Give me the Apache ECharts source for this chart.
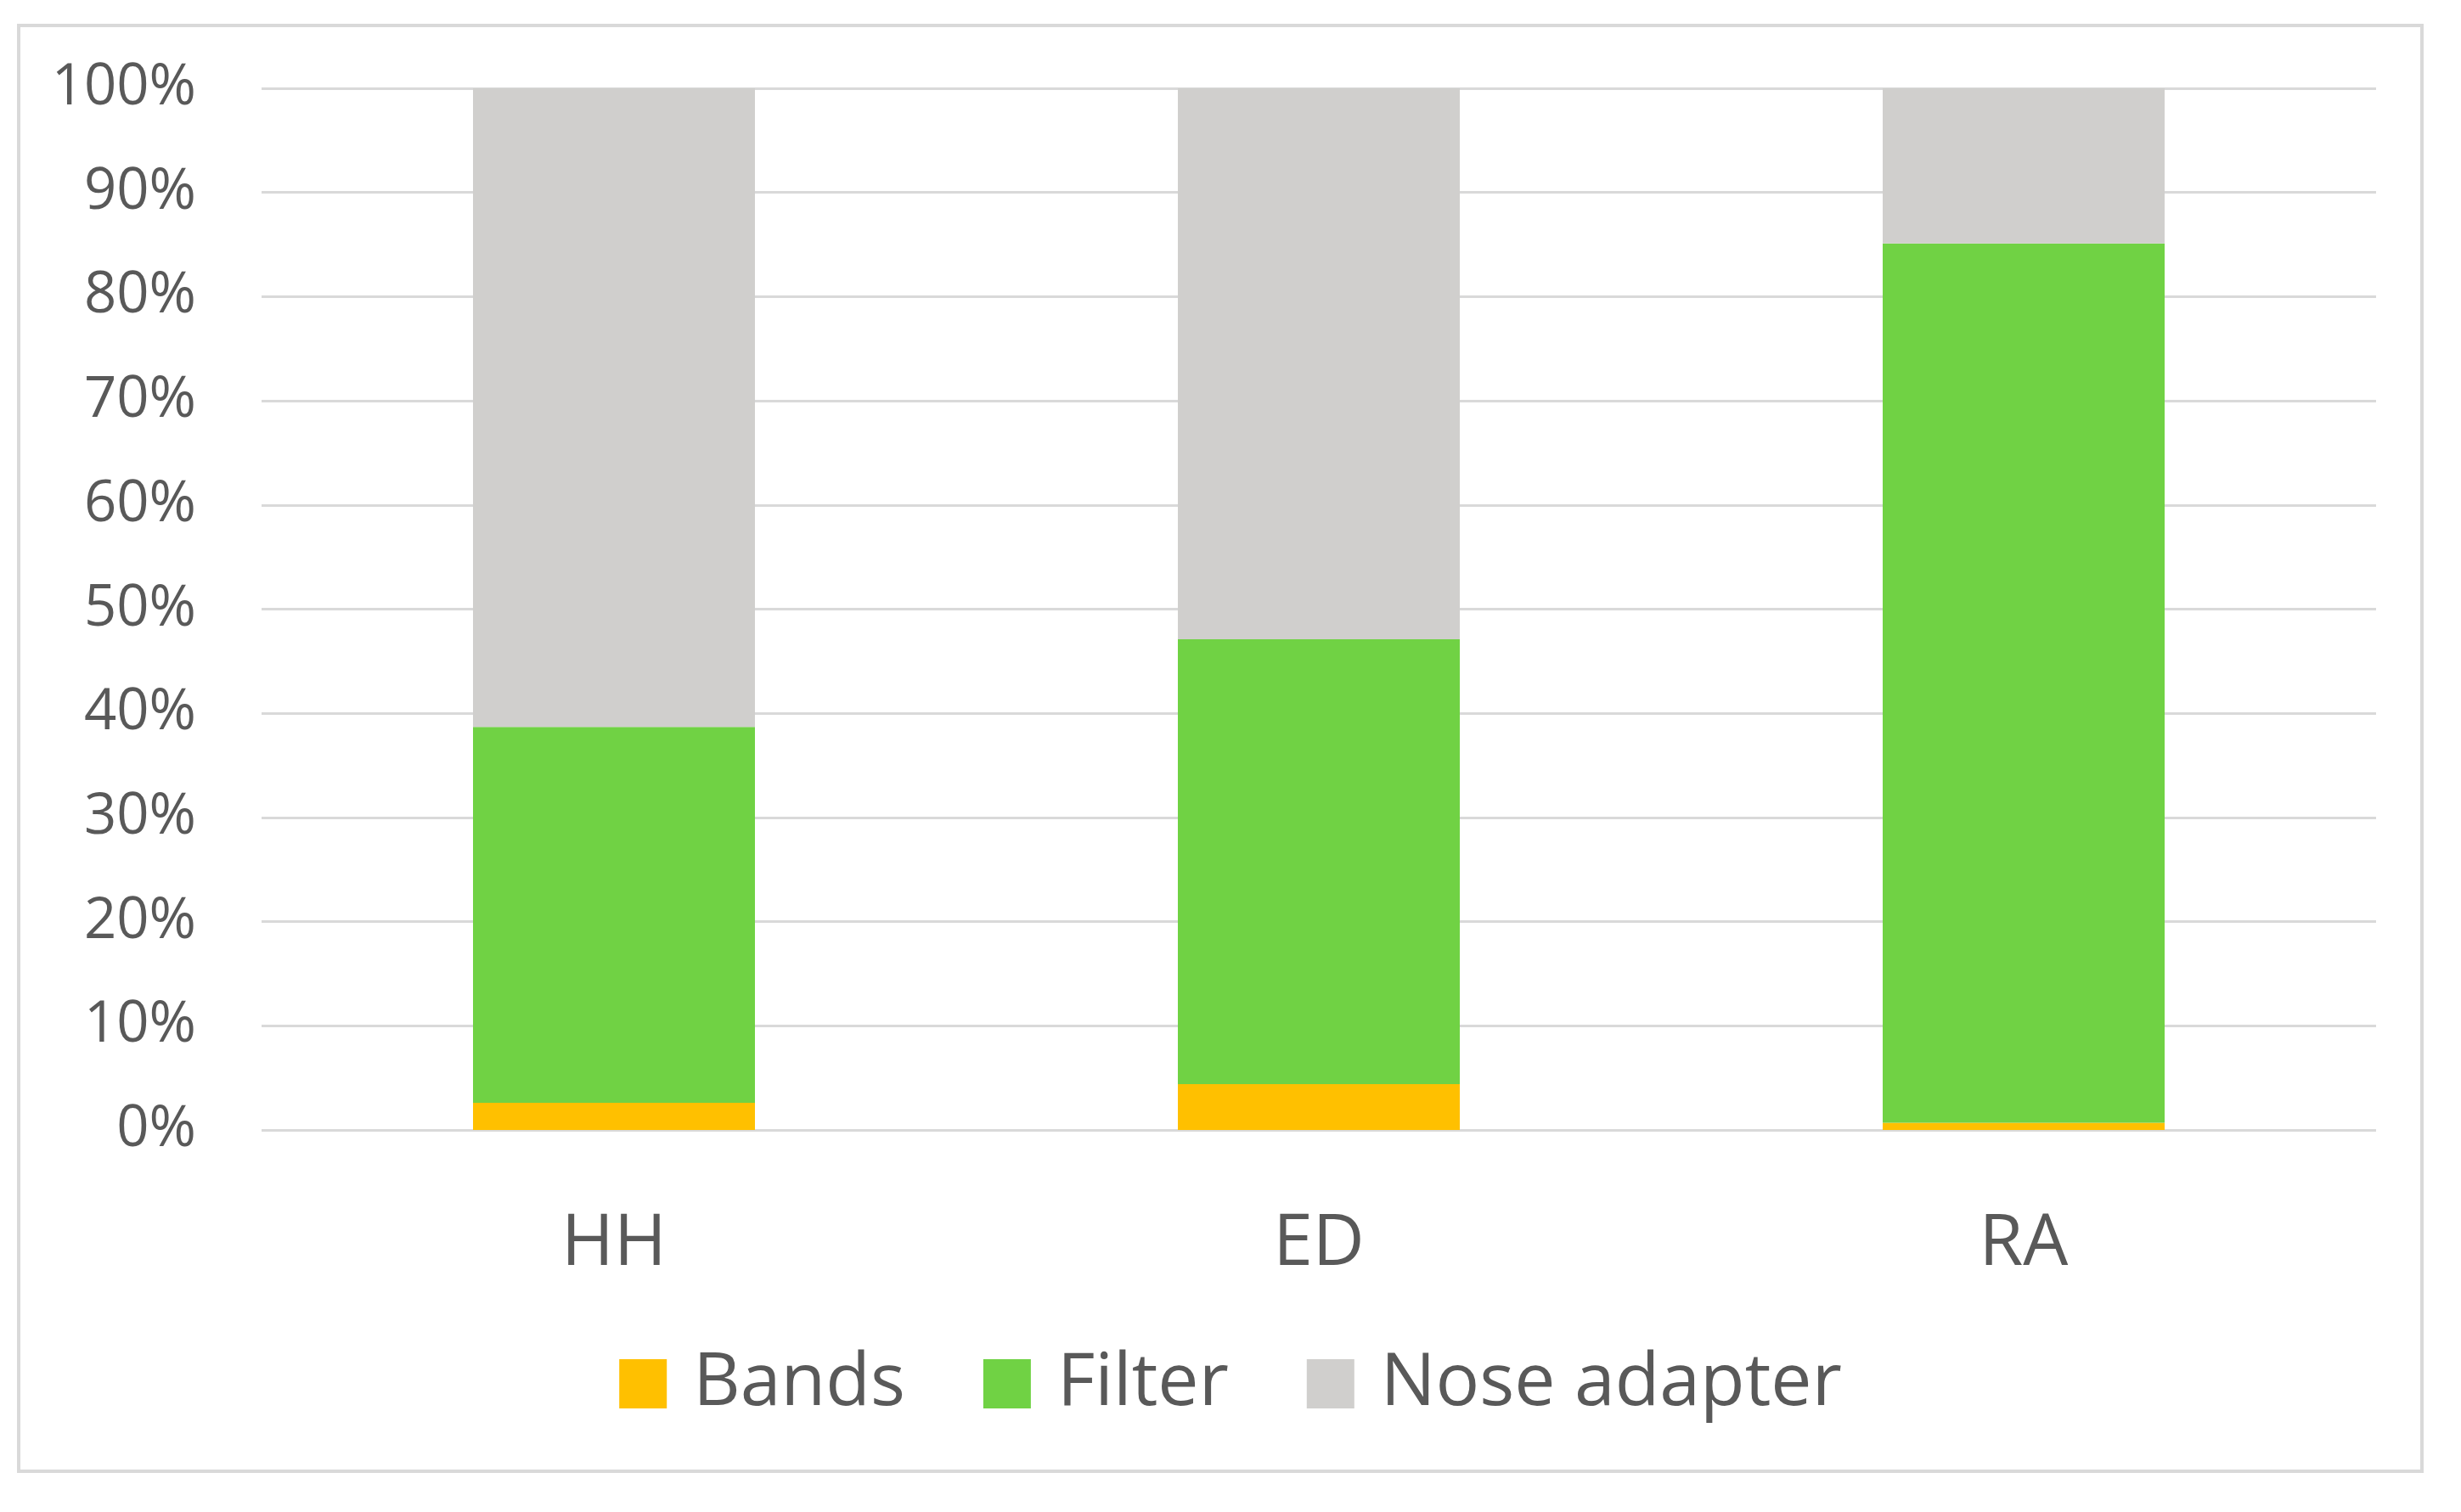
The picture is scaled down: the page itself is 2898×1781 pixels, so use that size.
<!DOCTYPE html>
<html>
<head>
<meta charset="utf-8">
<script src="https://cdn.jsdelivr.net/npm/echarts@6/dist/echarts.min.js"></script>
<style>
html,body{margin:0;padding:0;background:#fff;}
#chart{width:2898px;height:1781px;}
</style>
</head>
<body>
<div id="chart"></div>
<script>
const categories = ['HH', 'ED', 'RA'];
const bands = [2.6, 4.4, 0.7];
const filter = [36.1, 42.7, 84.4];
const noseAdapter = [61.3, 52.9, 14.9];
const yTicks = [0, 10, 20, 30, 40, 50, 60, 70, 80, 90, 100];

const chart = echarts.init(document.getElementById('chart'));
const font = "'Open Sans', sans-serif";
const textColor = '#595959';

chart.setOption({
  animation: false,
  backgroundColor: '#fff',
  graphic: [{
    type: 'rect',
    shape: { x: 22, y: 30, width: 2830, height: 1703 },
    style: { fill: 'none', stroke: '#d9d9d9', lineWidth: 4 },
    silent: true
  }],
  grid: { left: 308, right: 100, top: 104, bottom: 450, containLabel: false },
  legend: {
    data: ['Bands', 'Filter', 'Nose adapter'],
    bottom: 103,
    left: 'center',
    itemWidth: 56,
    itemHeight: 58,
    itemGap: 92,
    icon: 'rect',
    textStyle: { fontFamily: font, fontSize: 86, color: textColor, padding: [0, 0, 0, 26] }
  },
  xAxis: {
    type: 'category',
    data: categories,
    axisLine: { show: false },
    axisTick: { show: false },
    axisLabel: { fontFamily: font, fontSize: 84, color: textColor, margin: 93, lineHeight: 84 }
  },
  yAxis: {
    type: 'value',
    min: yTicks[0],
    max: yTicks[yTicks.length - 1],
    interval: 10,
    axisLine: { show: false },
    axisTick: { show: false },
    splitLine: { lineStyle: { color: '#d9d9d9', width: 3 } },
    axisLabel: { fontFamily: font, fontSize: 67, color: textColor, margin: 77, formatter: v => v + '%' }
  },
  series: [
    { name: 'Bands', type: 'bar', stack: 'total', data: bands, barWidth: '40%', itemStyle: { color: '#FFC000' } },
    { name: 'Filter', type: 'bar', stack: 'total', data: filter, barWidth: '40%', itemStyle: { color: '#70D244' } },
    { name: 'Nose adapter', type: 'bar', stack: 'total', data: noseAdapter, barWidth: '40%', itemStyle: { color: '#D0CFCD' } }
  ]
});
</script>
</body>
</html>
